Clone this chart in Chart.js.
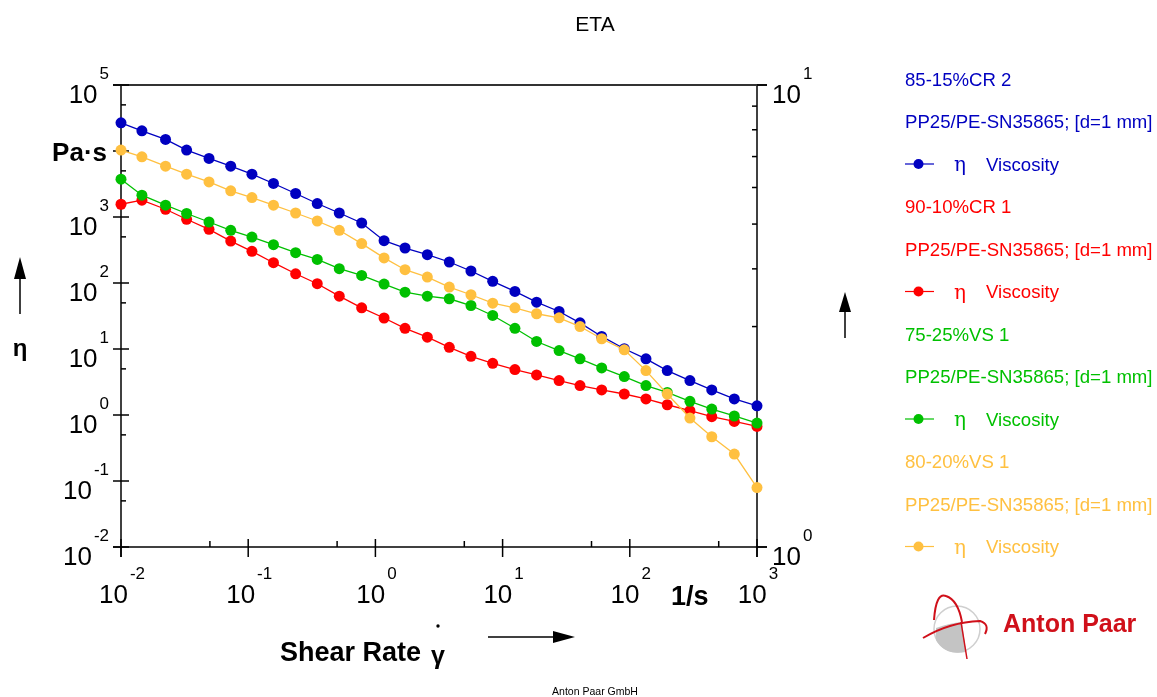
<!DOCTYPE html>
<html lang="en">
<head>
<meta charset="utf-8">
<title>ETA</title>
<script src="https://cdn.jsdelivr.net/npm/chart.js@4/dist/chart.umd.min.js"></script>
<style>
    html, body { margin: 0; padding: 0; background: #fff; }
    canvas { display: block; }
</style>
</head>
<body>
<canvas id="etaChart" width="1157" height="697"></canvas>
<script>
const FONT = '"Liberation Sans", Arial, Helvetica, sans-serif';

// shear rate (1/s), same log ramp for all four samples
const shearRate = [0.01, 0.0146, 0.0224, 0.0328, 0.0492, 0.0729, 0.107, 0.158, 0.236, 0.349,
                   0.52, 0.78, 1.17, 1.71, 2.56, 3.81, 5.64, 8.36, 12.5, 18.5,
                   27.8, 40.6, 60.1, 90.5, 134, 197, 297, 441, 663, 1000];

// viscosity eta (Pa·s)
const etaCR2 = [26770, 20240, 14980, 10310, 7710, 5890, 4450, 3220, 2270, 1600,
                1150, 811, 438, 339, 269, 208, 152, 106, 74.5, 51.3,
                37.0, 24.9, 15.5, 10.1, 7.09, 4.71, 3.32, 2.40, 1.75, 1.38];
const etaCR1 = [1560, 1800, 1310, 924, 651, 432, 302, 203, 138, 97.5,
                63.2, 42.1, 29.5, 20.6, 15.1, 10.6, 7.76, 6.07, 4.87, 4.05,
                3.32, 2.79, 2.40, 2.08, 1.75, 1.43, 1.16, 0.942, 0.799, 0.671];
const etaVS25 = [3740, 2140, 1510, 1130, 840, 629, 497, 381, 288, 228,
                 165, 130, 96.3, 72.7, 63.2, 57.7, 45.6, 32.2, 20.6, 13.0,
                 9.47, 7.09, 5.17, 3.82, 2.79, 2.20, 1.61, 1.23, 0.966, 0.756];
const etaVS20 = [10310, 8150, 5890, 4450, 3400, 2490, 1970, 1510, 1150, 870,
                 629, 395, 240, 159, 123, 86.6, 66.4, 49.5, 42.1, 34.2,
                 29.7, 21.9, 14.3, 9.70, 4.71, 2.08, 0.900, 0.468, 0.256, 0.0796];

const seriesNames  = ['85-15%CR 2', '90-10%CR 1', '75-25%VS 1', '80-20%VS 1'];
const seriesColors = ['rgb(0, 0, 192)', 'rgb(255, 0, 0)', 'rgb(0, 192, 0)', 'rgb(255, 192, 64)'];
const seriesValues = [etaCR2, etaCR1, etaVS25, etaVS20];
const geometry     = 'PP25/PE-SN35865; [d=1 mm]';

const xDecades   = [-2, -1, 0, 1, 2, 3];
const yDecades   = [-2, -1, 0, 1, 2, 3, 4, 5];
const rightTicks = [1, 2, 3, 4, 5, 6, 7, 8, 9, 10];

function seg(ctx, x1, y1, x2, y2) {
    ctx.beginPath();
    ctx.moveTo(x1, y1);
    ctx.lineTo(x2, y2);
    ctx.stroke();
}

// "10" with a raised exponent, group aligned left / center / right on x
function power(ctx, exp, x, y, align) {
    const gap = 2;
    ctx.font = `26px ${FONT}`;
    const wb = ctx.measureText('10').width;
    ctx.font = `17px ${FONT}`;
    const we = ctx.measureText(exp).width;
    const total = wb + gap + we;
    const left = align === 'right' ? x - total : align === 'center' ? x - total / 2 : x;
    ctx.textAlign = 'left';
    ctx.font = `26px ${FONT}`;
    ctx.fillText('10', left, y);
    ctx.font = `17px ${FONT}`;
    ctx.fillText(exp, left + wb + gap, y - 24);
}

function arrow(ctx, x1, y1, x2, y2, head, half) {
    const a = Math.atan2(y2 - y1, x2 - x1);
    const bx = x2 - head * Math.cos(a), by = y2 - head * Math.sin(a);
    seg(ctx, x1, y1, bx, by);
    ctx.beginPath();
    ctx.moveTo(x2, y2);
    ctx.lineTo(bx + half * Math.sin(a), by - half * Math.cos(a));
    ctx.lineTo(bx - half * Math.sin(a), by + half * Math.cos(a));
    ctx.closePath();
    ctx.fill();
}

function logo(ctx) {
    ctx.save();
    ctx.strokeStyle = '#cfcfcf';
    ctx.lineWidth = 1.5;
    ctx.beginPath();
    ctx.arc(957, 629, 23, 0, Math.PI * 2);
    ctx.stroke();
    ctx.fillStyle = '#c4c4c4';
    ctx.beginPath();
    ctx.moveTo(936, 628);
    ctx.quadraticCurveTo(950, 623, 962, 622);
    ctx.lineTo(966, 652);
    ctx.quadraticCurveTo(945, 656, 936, 640);
    ctx.closePath();
    ctx.fill();
    ctx.strokeStyle = '#d0101a';
    ctx.lineWidth = 2;
    ctx.beginPath();
    ctx.moveTo(934, 620);
    ctx.quadraticCurveTo(936, 592, 946, 596);
    ctx.quadraticCurveTo(958, 600, 962, 622);
    ctx.stroke();
    ctx.beginPath();
    ctx.moveTo(923, 638);
    ctx.quadraticCurveTo(950, 622, 980, 621);
    ctx.quadraticCurveTo(990, 624, 985, 634);
    ctx.stroke();
    ctx.lineWidth = 1.5;
    seg(ctx, 961, 622, 967, 659);
    ctx.fillStyle = '#d0101a';
    ctx.font = `bold 25px ${FONT}`;
    ctx.textAlign = 'left';
    ctx.fillText('Anton Paar', 1003, 632);
    ctx.restore();
}

const framePlugin = {
    id: 'frame',
    beforeDatasetsDraw(chart) {
        const { ctx, chartArea: a, scales: { x, y, y2 } } = chart;
        ctx.save();
        ctx.strokeStyle = '#000';
        ctx.lineWidth = 1.5;
        seg(ctx, a.left, a.top, a.left, a.bottom + 10);
        seg(ctx, a.right, a.top, a.right, a.bottom + 10);
        seg(ctx, a.left - 8, a.bottom, a.right + 10, a.bottom);
        ctx.strokeStyle = '#333';
        ctx.lineWidth = 2;
        seg(ctx, a.left - 8, a.top, a.right + 10, a.top);
        ctx.strokeStyle = '#000';
        ctx.lineWidth = 1.5;

        yDecades.forEach(e => {
            const py = y.getPixelForValue(10 ** e);
            seg(ctx, a.left - 8, py, a.left + 8, py);
            if (e < 5) {
                const pm = y.getPixelForValue(5 * 10 ** e);
                seg(ctx, a.left, pm, a.left + 5, pm);
            }
        });
        xDecades.forEach(e => {
            const px = x.getPixelForValue(10 ** e);
            seg(ctx, px, a.bottom - 8, px, a.bottom + 10);
            if (e < 3) {
                const pm = x.getPixelForValue(5 * 10 ** e);
                seg(ctx, pm, a.bottom - 6, pm, a.bottom);
            }
        });
        rightTicks.forEach(v => {
            const py = y2.getPixelForValue(v);
            if (v === 1 || v === 10) seg(ctx, a.right, py, a.right + 10, py);
            else seg(ctx, a.right - 5, py, a.right, py);
        });
        ctx.restore();
    },
    afterDraw(chart) {
        const { ctx, chartArea: a, scales: { x, y, y2 } } = chart;
        ctx.save();
        ctx.fillStyle = '#000';
        ctx.strokeStyle = '#000';
        ctx.textBaseline = 'alphabetic';

        yDecades.forEach(e => {
            if (e === 4) return;
            power(ctx, String(e), 109, y.getPixelForValue(10 ** e) + 18, 'right');
        });
        xDecades.forEach(e => {
            power(ctx, String(e), x.getPixelForValue(10 ** e) + 1, 603, 'center');
        });
        [1, 10].forEach(v => {
            power(ctx, String(Math.log10(v)), a.right + 15, y2.getPixelForValue(v) + 18, 'left');
        });

        ctx.font = `bold 26px ${FONT}`;
        ctx.textAlign = 'right';
        ctx.fillText('Pa·s', 107, y.getPixelForValue(1e4) + 10);
        ctx.textAlign = 'left';
        ctx.font = `bold 27px ${FONT}`;
        ctx.fillText('1/s', 671, 605);
        ctx.fillText('Shear Rate', 280, 661);
        ctx.font = `bold 25px ${FONT}`;
        ctx.fillText('γ', 431, 664);
        ctx.beginPath();
        ctx.arc(438, 626, 1.7, 0, Math.PI * 2);
        ctx.fill();
        ctx.textAlign = 'center';
        ctx.font = `bold 24px ${FONT}`;
        ctx.fillText('η', 20, 356);

        ctx.lineWidth = 1.5;
        arrow(ctx, 20, 314, 20, 257, 22, 6);
        arrow(ctx, 845, 338, 845, 292, 20, 6);
        arrow(ctx, 488, 637, 575, 637, 22, 6);

        ctx.font = `21px ${FONT}`;
        ctx.fillText('ETA', 595, 31);
        ctx.font = `10.5px ${FONT}`;
        ctx.fillText('Anton Paar GmbH', 595, 695);

        // legend: sample name, geometry, symbol row
        ctx.textAlign = 'left';
        seriesNames.forEach((name, i) => {
            const c = seriesColors[i];
            const y0 = 79 + i * 3 * 42.5;
            ctx.fillStyle = c;
            ctx.strokeStyle = c;
            ctx.font = `18.6px ${FONT}`;
            ctx.fillText(name, 905, y0 + 6.5);
            ctx.fillText(geometry, 905, y0 + 42.5 + 6.5);
            const ys = y0 + 85;
            ctx.lineWidth = 1.2;
            seg(ctx, 905, ys, 934, ys);
            ctx.beginPath();
            ctx.arc(918.5, ys, 5, 0, Math.PI * 2);
            ctx.fill();
            ctx.font = `20px "DejaVu Serif", "Liberation Serif", serif`;
            ctx.fillText('η', 954, ys + 7);
            ctx.font = `18.6px ${FONT}`;
            ctx.fillText('Viscosity', 986, ys + 6.5);
        });

        logo(ctx);
        ctx.restore();
    },
};

new Chart(document.getElementById('etaChart').getContext('2d'), {
    type: 'scatter',
    data: {
        datasets: seriesValues.map((vals, i) => ({
            label:                seriesNames[i],
            data:                 vals.map((v, j) => ({ x: shearRate[j], y: v })),
            showLine:             true,
            borderColor:          seriesColors[i],
            backgroundColor:      seriesColors[i],
            pointBackgroundColor: seriesColors[i],
            pointBorderWidth:     0,
            pointRadius:          5.5,
            borderWidth:          1.3,
            tension:              0,
            clip:                 false,
            order:                4 - i,
        })),
    },
    options: {
        responsive: false,
        animation: false,
        devicePixelRatio: 1,
        layout: { padding: { left: 121, right: 400, top: 85, bottom: 150 } },
        scales: {
            x:  { type: 'logarithmic', min: 0.01, max: 1000, display: false },
            y:  { type: 'logarithmic', min: 0.01, max: 1e5, display: false },
            y2: { type: 'logarithmic', min: 1, max: 10, display: false, position: 'right' },
        },
        plugins: {
            legend: { display: false },
            title: { display: false },
            tooltip: { enabled: false },
        },
    },
    plugins: [framePlugin],
});
</script>
</body>
</html>
